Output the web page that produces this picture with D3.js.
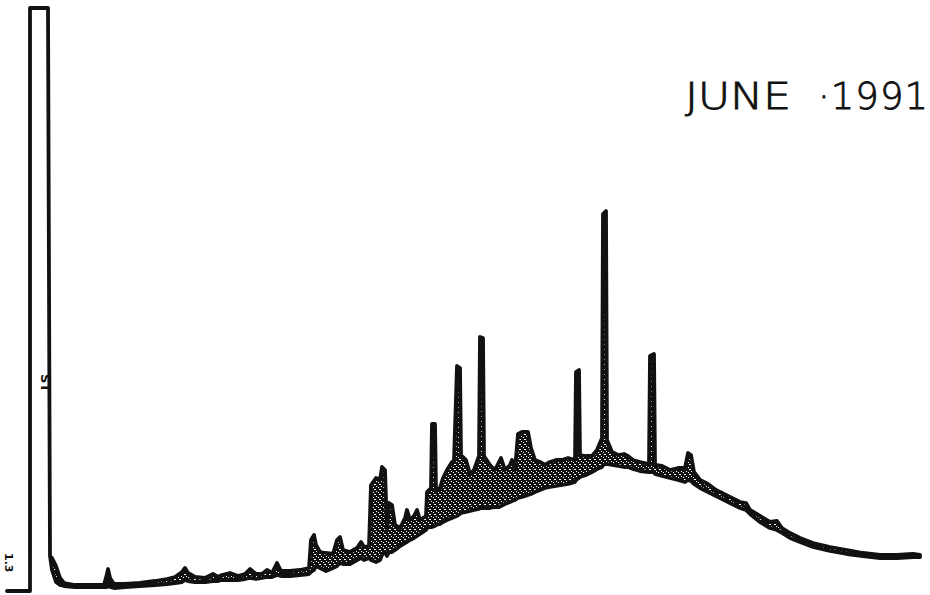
<!DOCTYPE html>
<html>
<head>
<meta charset="utf-8">
<script src="https://cdn.jsdelivr.net/npm/d3@7"></script>
<style>
  html, body { margin: 0; padding: 0; background: #fff; }
  svg { display: block; }
</style>
</head>
<body>
<svg id="chart" width="930" height="595"></svg>
<script>
// Chromatogram trace, June 1991 run.
// Retention time (min) with the upper and lower detector signal (% of full scale)
// recorded in each sampling window; the solvent peak runs off scale at the top.
const retentionMin = [
  0.7, 3.0, 3.0, 4.8, 5.0, 5.2, 5.6, 6.0, 6.4, 7.5, 9.0, 10.4, 10.7, 10.8, 11.0, 11.4,
  12.5, 14.0, 15.5, 16.7, 17.5, 18.2, 18.5, 18.8, 19.5, 20.5, 21.3, 21.8, 22.2, 23.0,
  23.8, 24.5, 25.0, 25.6, 26.2, 26.7, 27.2, 27.7, 28.1, 29.0, 30.0, 30.9, 31.1, 31.4,
  31.6, 32.0, 32.6, 33.3, 33.7, 34.0, 34.3, 35.0, 35.7, 36.1, 36.4, 36.9, 37.1, 37.6,
  38.0, 38.2, 38.5, 38.7, 38.9, 39.2, 39.5, 40.0, 40.5, 40.7, 41.0, 41.4, 41.7, 42.0,
  42.6, 42.7, 43.1, 43.2, 43.5, 43.6, 44.0, 44.3, 44.7, 45.2, 45.4, 45.7, 46.0, 46.1,
  46.6, 47.0, 47.4, 47.9, 48.0, 48.3, 48.4, 49.0, 49.5, 49.9, 50.1, 50.5, 51.0, 51.2,
  51.5, 51.8, 52.2, 52.8, 53.1, 53.5, 54.0, 54.5, 55.0, 55.6, 56.2, 56.8, 57.5, 57.6,
  57.9, 58.0, 58.6, 59.2, 59.7, 60.2, 60.3, 60.6, 60.7, 61.2, 61.8, 62.4, 62.8, 63.3,
  64.0, 64.9, 65.0, 65.4, 65.5, 66.2, 67.0, 67.8, 68.5, 68.8, 69.1, 69.4, 70.0, 70.8,
  71.6, 72.4, 73.2, 74.0, 74.6, 75.0, 76.0, 77.0, 77.7, 78.2, 79.0, 80.0, 81.3, 83.0,
  84.7, 86.3, 88.0, 89.7, 91.3, 92.0
];

const signalHigh = [
  0, 0, 116.6, 116.6, 7.0, 6.6, 5.0, 2.6, 1.6, 1.2, 1.2, 1.2, 3.4, 4.4, 2.6, 1.4,
  1.4, 1.6, 2.0, 2.4, 2.8, 3.8, 4.6, 3.6, 2.8, 2.6, 3.4, 2.8, 3.2, 3.6,
  3.0, 3.4, 4.4, 3.4, 3.4, 4.2, 3.6, 5.6, 4.0, 4.0, 4.2, 4.6, 10.2, 11.2,
  9.2, 7.8, 7.6, 7.4, 10.2, 10.8, 8.2, 7.8, 8.6, 9.8, 8.8, 9.0, 21.2, 22.6,
  22.2, 24.8, 24.2, 12.2, 17.6, 17.2, 13.2, 12.6, 14.6, 16.2, 14.2, 15.0, 16.2, 14.2,
  15.0, 19.8, 20.6, 33.4, 33.4, 20.2, 20.6, 22.6, 24.2, 25.8, 26.0, 45.0, 44.6, 27.2,
  26.2, 23.4, 24.2, 27.0, 50.8, 50.6, 27.0, 25.2, 24.2, 25.8, 26.6, 24.2, 25.2, 26.2,
  24.2, 31.4, 31.8, 31.8, 28.6, 26.2, 25.8, 25.2, 25.8, 26.2, 26.2, 26.6, 26.2, 43.8,
  44.2, 27.2, 27.0, 27.0, 28.2, 30.6, 75.4, 76.0, 30.2, 27.8, 27.2, 27.4, 27.0, 26.2,
  25.8, 25.4, 47.0, 47.4, 25.2, 25.0, 24.2, 24.6, 24.6, 27.6, 27.2, 23.8, 22.2, 21.4,
  20.2, 19.4, 18.6, 17.8, 17.6, 16.2, 15.0, 13.8, 14.0, 12.6, 11.6, 10.6, 9.6, 8.8,
  8.2, 7.6, 7.2, 7.2, 7.4, 7.2
];

const signalLow = [
  0, 0, 116.6, 116.6, 7.0, 4.2, 1.8, 1.2, 1.0, 0.8, 0.8, 0.8, 0.8, 2.2, 0.8, 0.6,
  0.8, 1.0, 1.2, 1.4, 1.6, 1.8, 2.2, 2.0, 1.8, 1.8, 2.0, 2.0, 2.2, 2.2,
  2.2, 2.4, 2.6, 2.4, 2.6, 2.8, 2.8, 3.2, 3.0, 3.0, 3.2, 3.4, 3.8, 4.2,
  5.0, 4.6, 4.0, 4.6, 5.0, 5.6, 5.4, 5.4, 6.2, 6.6, 6.2, 6.6, 6.2, 5.8,
  6.2, 7.2, 7.8, 7.0, 7.8, 7.8, 8.2, 9.0, 9.6, 9.8, 10.2, 10.6, 11.0, 11.4,
  12.2, 12.6, 12.8, 12.8, 13.0, 13.2, 13.4, 13.8, 14.2, 14.6, 14.8, 15.0, 15.4, 15.6,
  15.8, 16.0, 16.2, 16.4, 16.6, 16.6, 16.6, 16.6, 16.8, 16.8, 17.0, 17.4, 17.8, 18.0,
  18.2, 18.6, 18.8, 19.2, 19.4, 19.8, 20.2, 20.6, 20.8, 21.0, 21.2, 21.4, 21.8, 22.2,
  22.6, 22.8, 23.2, 23.8, 24.4, 24.8, 25.2, 25.4, 25.4, 25.2, 25.0, 24.8, 24.8, 24.4,
  24.0, 23.8, 23.8, 23.8, 23.4, 23.0, 22.6, 22.2, 21.8, 22.2, 22.0, 21.4, 20.6, 19.8,
  19.0, 18.2, 17.4, 16.6, 16.2, 15.4, 13.8, 12.6, 12.2, 11.6, 10.6, 9.8, 8.8, 8.0,
  7.4, 7.0, 6.6, 6.6, 6.8, 6.8
];

const runMonth = "JUNE";
const runYear = "\u00B71991";
const startMark = "1.3";
const eventMark = "ST";

const trace = retentionMin.map((t, i) => ({ t, hi: signalHigh[i], lo: signalLow[i] }));

const svg = d3.select("#chart");
const width = 930;

const x = d3.scaleLinear().domain([0, 93]).range([0, width]);
const y = d3.scaleLinear().domain([0, 118.2]).range([591, 0]);

// Pen-on-paper grain for the dense parts of the trace
const defs = svg.append("defs");
const grain = defs.append("pattern")
  .attr("id", "grain")
  .attr("width", 5).attr("height", 5)
  .attr("patternUnits", "userSpaceOnUse");
grain.append("rect").attr("width", 5).attr("height", 5).attr("fill", "#111");
[[1, 1], [3, 2], [0, 4], [4, 4]].forEach(([px, py]) =>
  grain.append("rect").attr("x", px).attr("y", py).attr("width", 1).attr("height", 1).attr("fill", "#fff"));

const band = d3.area()
  .x(d => x(d.t))
  .y0(d => y(d.lo))
  .y1(d => y(d.hi));

svg.append("path")
  .datum(trace)
  .attr("d", band)
  .attr("fill", "url(#grain)")
  .attr("stroke", "#111")
  .attr("stroke-width", 3.8)
  .attr("stroke-linejoin", "round")
  .attr("stroke-linecap", "round");

// Run label, plotter-style thin lettering
const labelFont = "'DejaVu Sans', sans-serif";
function runLabel(text, x0, len, widen) {
  svg.append("text")
    .attr("transform", `translate(${x0},109) scale(${widen},1)`)
    .attr("textLength", len / widen).attr("lengthAdjust", "spacing")
    .attr("font-family", labelFont).attr("font-weight", 200)
    .attr("font-size", 37)
    .attr("fill", "#111")
    .attr("stroke", "#111").attr("stroke-width", 0.8)
    .text(text);
}
runLabel(runMonth, 685, 106, 1.2);
runLabel(runYear, 818, 110, 1.0);

// Small chart-paper annotations
svg.append("text")
  .attr("transform", `translate(${x(0.5)},${y(7.6)}) rotate(90)`)
  .attr("font-family", labelFont)
  .attr("font-size", 11)
  .attr("font-weight", "bold")
  .attr("fill", "#111")
  .text(startMark);

svg.append("text")
  .attr("transform", `translate(${x(4.1)},${y(43.4)}) rotate(90)`)
  .attr("font-family", labelFont)
  .attr("font-size", 13)
  .attr("font-weight", "bold")
  .attr("fill", "#111")
  .text(eventMark);
</script>
</body>
</html>
